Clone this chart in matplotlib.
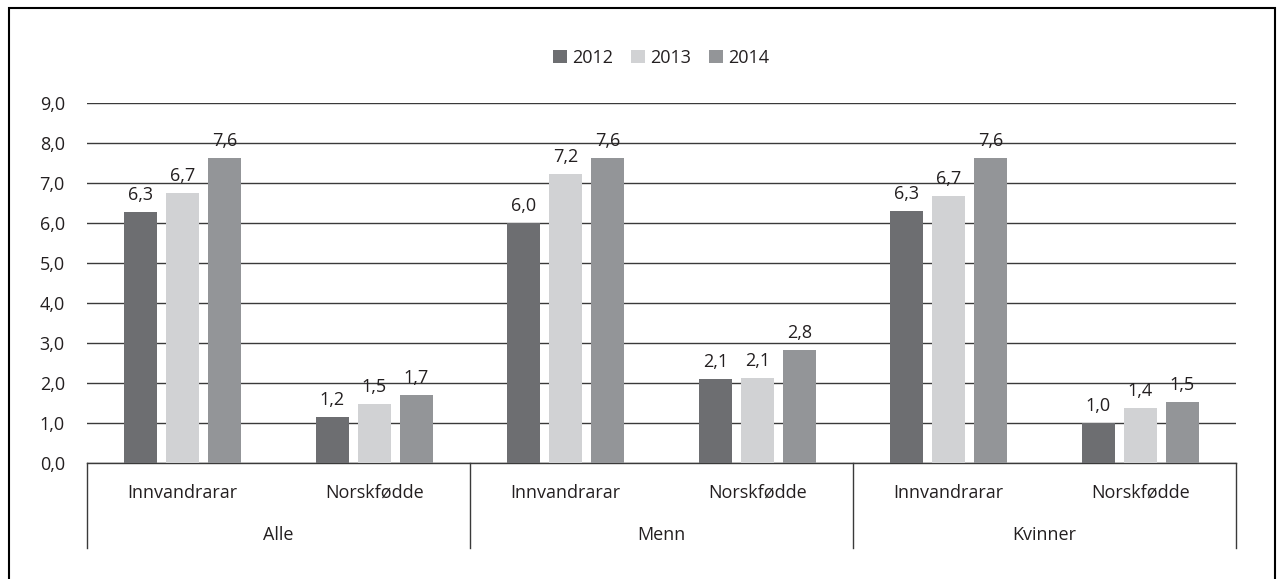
import matplotlib

matplotlib.use("Agg")
import matplotlib.pyplot as plt
from matplotlib.patches import Rectangle
import numpy as np

plt.rcParams["font.family"] = ["Open Sans", "DejaVu Sans"]

years = ["2012", "2013", "2014"]
groups = ["Alle", "Menn", "Kvinner"]
subgroups = ["Innvandrarar", "Norskfødde"]
v2012 = [6.27, 1.16, 6.00, 2.09, 6.31, 1.00]
v2013 = [6.74, 1.48, 7.22, 2.12, 6.67, 1.38]
v2014 = [7.63, 1.71, 7.63, 2.82, 7.63, 1.52]
colors = ["#6d6e71", "#d1d2d4", "#939598"]
FS = 13
TXT = "#231f20"

fig = plt.figure(figsize=(12.77, 5.79), dpi=100)
ax = fig.add_axes([87 / 1277, 116 / 579, 1149 / 1277, 360 / 579])

x = np.arange(len(v2012))
off = 0.219
w = 0.172
for i, (vals, c, yr) in enumerate(zip([v2012, v2013, v2014], colors, years)):
    ax.bar(x + (i - 1) * off, vals, width=w, color=c, label=yr, zorder=3)
    for xi, v in zip(x + (i - 1) * off, vals):
        ax.text(xi, v + 0.2, f"{v:.1f}".replace(".", ","), ha="center",
                va="bottom", fontsize=FS, color=TXT, zorder=4)

ax.set_xlim(-0.5, 5.5)
ax.set_ylim(0, 9)
ticks = np.arange(0, 10, 1)
ax.set_yticks(ticks)
ax.set_yticklabels([f"{t:.1f}".replace(".", ",") for t in ticks],
                   fontsize=FS, color=TXT)
ax.tick_params(axis="y", length=0, pad=16)
ax.set_xticks([])
ax.yaxis.grid(True, color="#3a3a3a", linewidth=1.0)
ax.set_axisbelow(True)
for s in ["left", "right", "top"]:
    ax.spines[s].set_visible(False)
ax.spines["bottom"].set_color("#3a3a3a")
ax.spines["bottom"].set_linewidth(1.0)

# hierarchical category axis
trans = ax.get_xaxis_transform()
for sx in [-0.5, 1.5, 3.5, 5.5]:
    ax.plot([sx, sx], [0, -0.236], transform=trans, color="#3a3a3a",
            linewidth=1.0, clip_on=False)
for i, xi in enumerate(x):
    ax.text(xi, -0.082, subgroups[i % 2], transform=trans, ha="center",
            va="center", fontsize=FS, color=TXT)
for g, gx in zip(groups, [0.5, 2.5, 4.5]):
    ax.text(gx, -0.2, g, transform=trans, ha="center", va="center",
            fontsize=FS, color=TXT)

ax.legend(loc="lower center", bbox_to_anchor=(0.5, 1.08), ncol=3, frameon=False,
          fontsize=FS, handlelength=0.75, handleheight=0.75, handletextpad=0.3,
          columnspacing=1.0, labelcolor=TXT, borderaxespad=0)

fig.patches.append(Rectangle((9 / 1277, -0.01), 1266 / 1277, 1 - 8 / 579 + 0.01,
                             transform=fig.transFigure, fill=False,
                             edgecolor="black", linewidth=1.5))

fig.savefig("out.png", dpi=100)
